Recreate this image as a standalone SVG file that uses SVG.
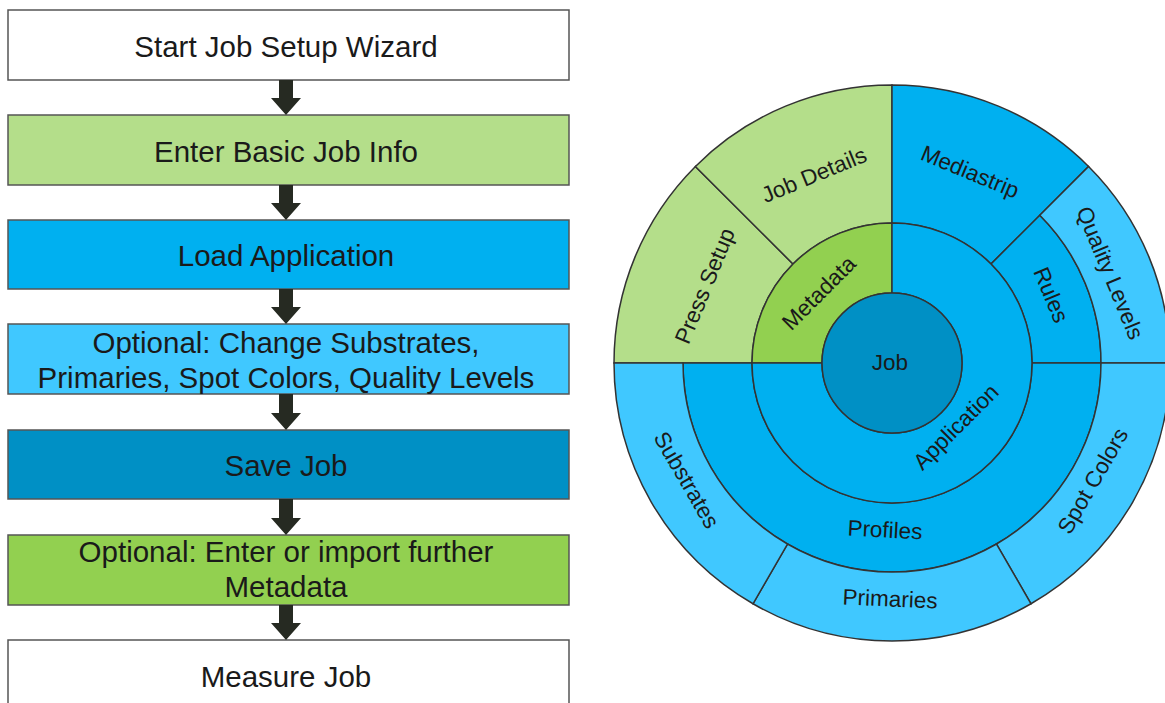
<svg xmlns="http://www.w3.org/2000/svg" width="1165" height="703" viewBox="0 0 1165 703">
<style>
.box{stroke:#555;stroke-width:1.5}
.ft{font-family:"Liberation Sans",Arial,sans-serif;font-size:29.5px;fill:#1a1a1a;text-anchor:middle}
.seg{stroke:#333;stroke-width:1.5}
.st{font-family:"Liberation Sans",Arial,sans-serif;font-size:22.5px;fill:#1a1a1a;text-anchor:middle;dominant-baseline:central}
.arr{fill:#262a22}
.white{fill:#ffffff}.lg{fill:#b4de8a}.g{fill:#92d050}.b{fill:#00b0f0}.lb{fill:#40c8ff}.db{fill:#0090c5}
</style>
<rect width="1165" height="703" fill="#ffffff"/>
<g id="flowchart">
<g id="n1"><rect class="box white" x="8" y="10" width="561" height="70"/><text class="ft" x="286" y="56.5">Start Job Setup Wizard</text></g>
<g id="n2"><rect class="box lg" x="8" y="115" width="561" height="70"/><text class="ft" x="286" y="161.5">Enter Basic Job Info</text></g>
<g id="n3"><rect class="box b" x="8" y="220" width="561" height="69"/><text class="ft" x="286" y="266">Load Application</text></g>
<g id="n4"><rect class="box lb" x="8" y="324" width="561" height="70"/><text class="ft" x="286" y="353">Optional: Change Substrates,</text><text class="ft" x="286" y="388">Primaries, Spot Colors, Quality Levels</text></g>
<g id="n5"><rect class="box db" x="8" y="430" width="561" height="69"/><text class="ft" x="286" y="476">Save Job</text></g>
<g id="n6"><rect class="box g" x="8" y="535" width="561" height="70"/><text class="ft" x="286" y="562">Optional: Enter or import further</text><text class="ft" x="286" y="597">Metadata</text></g>
<g id="n7"><rect class="box white" x="8" y="640" width="561" height="75"/><text class="ft" x="286" y="687">Measure Job</text></g>
</g>
<g id="connectors">
<polygon class="arr" points="279,80 293,80 293,98 301,98 286,115 271,98 279,98"/>
<polygon class="arr" points="279,185 293,185 293,203 301,203 286,220 271,203 279,203"/>
<polygon class="arr" points="279,289 293,289 293,307 301,307 286,324 271,307 279,307"/>
<polygon class="arr" points="279,394 293,394 293,413 301,413 286,430 271,413 279,413"/>
<polygon class="arr" points="279,499 293,499 293,518 301,518 286,535 271,518 279,518"/>
<polygon class="arr" points="279,605 293,605 293,623 301,623 286,640 271,623 279,623"/>
</g>
<g id="sunburst">
<g id="press-setup"><path class="seg lg" d="M 614 363 A 278 278 0 0 1 695.42 166.42 L 793.01 264.01 A 140 140 0 0 0 752 363 Z"/><text class="st" transform="translate(705,286) rotate(-67.5)">Press Setup</text></g>
<g id="job-details"><path class="seg lg" d="M 695.42 166.42 A 278 278 0 0 1 892 85 L 892 223 A 140 140 0 0 0 793.01 264.01 Z"/><text class="st" transform="translate(814,175) rotate(-22.5)">Job Details</text></g>
<g id="mediastrip"><path class="seg b" d="M 892 85 A 278 278 0 0 1 1088.58 166.42 L 990.99 264.01 A 140 140 0 0 0 892 223 Z"/><text class="st" transform="translate(970,172) rotate(22.5)">Mediastrip</text></g>
<g id="rules"><path class="seg b" d="M 990.99 264.01 A 140 140 0 0 1 1032 363 L 1101 363 A 209 209 0 0 0 1039.79 215.21 Z"/><text class="st" transform="translate(1051,295) rotate(67.5)">Rules</text></g>
<g id="quality-levels"><path class="seg lb" d="M 1039.79 215.21 A 209 209 0 0 1 1101 363 L 1170 363 A 278 278 0 0 0 1088.58 166.42 Z"/><text class="st" transform="translate(1110,273) rotate(67.5)">Quality Levels</text></g>
<g id="profiles"><path class="seg b" d="M 1032 363 A 140 140 0 0 1 752 363 L 683 363 A 209 209 0 0 0 1101 363 Z"/><text class="st" transform="translate(885,530) rotate(3)">Profiles</text></g>
<g id="spot-colors"><path class="seg lb" d="M 1170 363 A 278 278 0 0 1 1031 603.76 L 996.5 544 A 209 209 0 0 0 1101 363 Z"/><text class="st" transform="translate(1093,481) rotate(-60)">Spot Colors</text></g>
<g id="primaries"><path class="seg lb" d="M 1031 603.76 A 278 278 0 0 1 753 603.76 L 787.5 544 A 209 209 0 0 0 996.5 544 Z"/><text class="st" transform="translate(890,599) rotate(2.5)">Primaries</text></g>
<g id="substrates"><path class="seg lb" d="M 753 603.76 A 278 278 0 0 1 614 363 L 683 363 A 209 209 0 0 0 787.5 544 Z"/><text class="st" transform="translate(686.5,480) rotate(60)">Substrates</text></g>
<g id="metadata"><path class="seg g" d="M 752 363 A 140 140 0 0 1 892 223 L 892 293 A 70 70 0 0 0 822 363 Z"/><text class="st" transform="translate(819,293) rotate(-45)">Metadata</text></g>
<g id="application"><path class="seg b" d="M 892 223 A 140 140 0 1 1 752 363 L 822 363 A 70 70 0 1 0 892 293 Z"/><text class="st" transform="translate(956,427) rotate(-45)">Application</text></g>
<g id="job"><circle class="seg db" cx="892" cy="363" r="70"/><text class="st" x="890" y="362">Job</text></g>
</g>
</svg>
